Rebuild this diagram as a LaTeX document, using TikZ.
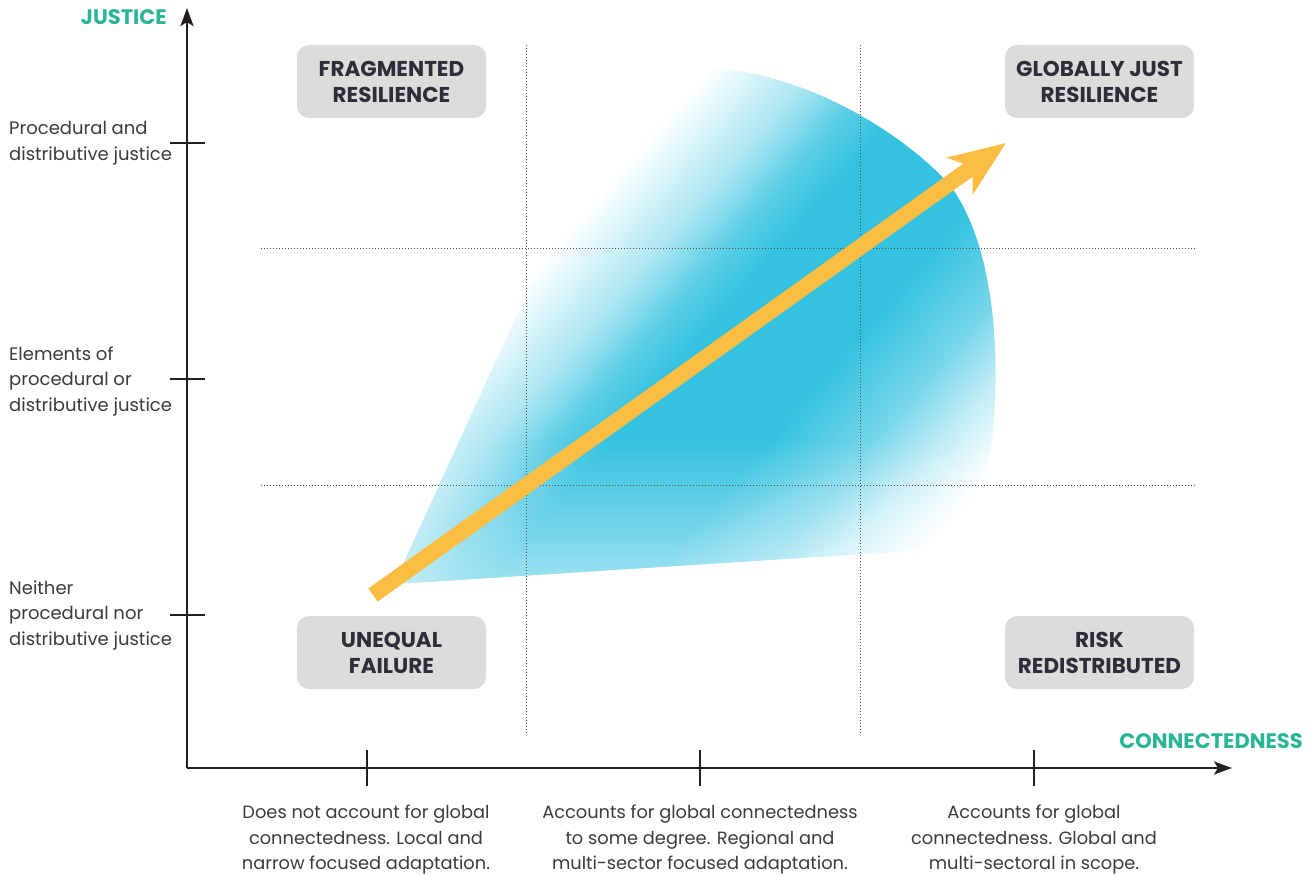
\documentclass[tikz,border=0pt]{standalone}
\usepackage{fontspec}
\setmainfont{Poppins}
\usetikzlibrary{arrows.meta,fadings}
\definecolor{fanblue}{RGB}{52,194,224}
\definecolor{arrowyellow}{RGB}{251,189,66}
\definecolor{boxgray}{RGB}{220,221,219}
\definecolor{boxtext}{RGB}{45,46,58}
\definecolor{tealtxt}{RGB}{42,181,150}
\definecolor{labeltxt}{RGB}{58,58,64}
\definecolor{axiscol}{RGB}{35,31,32}
\definecolor{dotcol}{RGB}{80,80,80}
\pgfdeclarehorizontalshading{fanshade}{100bp}{color(0bp)=(white); color(34.93bp)=(white); color(40.64bp)=(fanblue!40); color(44.21bp)=(fanblue!80); color(47.07bp)=(fanblue); color(55.64bp)=(fanblue); color(61.5bp)=(fanblue!65); color(65.0bp)=(fanblue!30); color(69.2bp)=(white); color(100bp)=(white)}
\tikzfading[name=bottomfade, top color=transparent!100, bottom color=transparent!45]
\tikzset{
  quadbox/.style={rectangle, rounded corners=12pt, fill=boxgray, minimum width=189pt, minimum height=73pt, align=center, text=boxtext, font=\fontsize{21.5}{26}\selectfont\bfseries, inner sep=0pt},
  axislabel/.style={text=tealtxt, font=\fontsize{21}{24}\selectfont\bfseries, inner sep=0pt},
  ylab/.style={anchor=west, align=left, text=labeltxt, font=\fontsize{18}{25.5}\selectfont, inner sep=0pt},
  xlab/.style={anchor=center, align=center, text=labeltxt, font=\fontsize{17.8}{25.5}\selectfont, inner sep=0pt},
  axisline/.style={draw=axiscol, line width=2.5pt, -{Stealth[length=18pt, width=13pt, inset=4pt]}},
  tickline/.style={draw=axiscol, line width=1.3pt},
  gridline/.style={draw=dotcol, line width=1pt, dash pattern=on 1pt off 2pt},
  bigarrow/.style={draw=arrowyellow, line width=16pt, -{Stealth[length=56pt, width=44pt, inset=15pt]}},
}
\begin{document}
\begin{tikzpicture}[x=1pt, y=-1pt]
\useasboundingbox (0,0) rectangle (1315,875);
% fan shape
\begin{scope}
\clip (394,584) -- (528,290) .. controls (570,195) and (630,85) .. (705,68) .. controls (800,70) and (900,130) .. (950,185) .. controls (990,240) and (998,330) .. (995,400) .. controls (992,480) and (975,530) .. (925,550) -- cycle;
\shade[shading=fanshade, shading angle=-41] (350,50) rectangle (1050,750);
\fill[white, path fading=bottomfade] (370,440) rectangle (1010,592);
\end{scope}
% grid
\coordinate (v1t) at (526,45); \coordinate (v1b) at (526,733);
\coordinate (v2t) at (860,45); \coordinate (v2b) at (860,733);
\coordinate (h1l) at (261,248); \coordinate (h1r) at (1195,248);
\coordinate (h2l) at (261,485); \coordinate (h2r) at (1195,485);
\draw[gridline] (v1t) -- (v1b);
\draw[gridline] (v2t) -- (v2b);
\draw[gridline] (h1l) -- (h1r);
\draw[gridline] (h2l) -- (h2r);
% big arrow
\coordinate (atail) at (373,595);
\coordinate (atip) at (1006,143);
\draw[bigarrow] (atail) -- (atip);
% boxes
\node[quadbox] (frag) at (391.5,81.5) {FRAGMENTED\\RESILIENCE};
\node[quadbox] (glob) at (1099.5,81.5) {GLOBALLY JUST\\RESILIENCE};
\node[quadbox] (uneq) at (391.5,652.5) {UNEQUAL\\FAILURE};
\node[quadbox] (risk) at (1099.5,652.5) {RISK\\REDISTRIBUTED};
% axes
\coordinate (O) at (187,768);
\coordinate (ytop) at (187,8);
\coordinate (xend) at (1232,768);
\draw[axisline] (O) -- (ytop);
\draw[axisline] (O) -- (xend);
% ticks
\foreach \yy/\nm in {143/ya,379/yb,615/yc}{
  \coordinate (\nm l) at (170,\yy); \coordinate (\nm r) at (205,\yy);
  \draw[tickline] (\nm l) -- (\nm r);
}
\foreach \xx/\nm in {367/xa,700/xb,1034/xc}{
  \coordinate (\nm t) at (\xx,750); \coordinate (\nm b) at (\xx,786);
  \draw[tickline] (\nm t) -- (\nm b);
}
% axis labels
\node[axislabel, anchor=east] (justice) at (167,17) {JUSTICE};
\node[axislabel, anchor=east] (conn) at (1303,741) {CONNECTEDNESS};
% y labels
\node[ylab] (yl1) at (9,143) {Procedural and\\distributive justice};
\node[ylab] (yl2) at (9,381) {Elements of\\procedural or\\distributive justice};
\node[ylab] (yl3) at (9,615) {Neither\\procedural nor\\distributive justice};
% x labels
\node[xlab] (xl1) at (366,840) {Does not account for global\\connectedness. Local and\\narrow focused adaptation.};
\node[xlab] (xl2) at (700,840) {Accounts for global connectedness\\to some degree. Regional and\\multi-sector focused adaptation.};
\node[xlab] (xl3) at (1034,840) {Accounts for global\\connectedness. Global and\\multi-sectoral in scope.};
\end{tikzpicture}
\end{document}
